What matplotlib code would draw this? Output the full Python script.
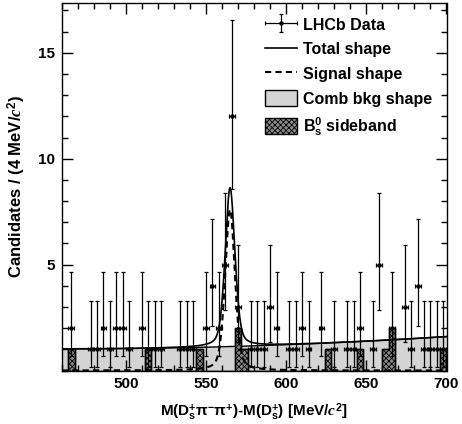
import numpy as np
import matplotlib
matplotlib.use("Agg")
import matplotlib.pyplot as plt
from matplotlib.lines import Line2D
from matplotlib.patches import Patch
from matplotlib.legend_handler import HandlerErrorbar
from matplotlib.container import ErrorbarContainer

# ---------------- data ----------------
bin_low = 460.0
bin_width = 4.0
counts = [0, 2, 0, 0, 1, 1, 2, 1, 2, 2,
          1, 0, 2, 1, 1, 1, 0, 0, 1, 1,
          1, 0, 2, 4, 2, 5, 12, 3, 0, 1,
          1, 1, 3, 2, 0, 1, 1, 2, 1, 0,
          2, 0, 1, 0, 1, 1, 2, 0, 1, 5,
          0, 2, 0, 3, 1, 4, 1, 1, 1, 1]
sideband = [0, 1, 0, 0, 0, 0, 0, 0, 0, 0,
            0, 0, 0, 1, 0, 0, 0, 0, 0, 0,
            0, 1, 0, 0, 0, 0, 0, 2, 1, 0,
            0, 0, 0, 0, 0, 0, 0, 0, 0, 0,
            0, 1, 0, 0, 0, 0, 1, 0, 0, 0,
            1, 2, 0, 0, 0, 0, 0, 0, 0, 1]
# Poisson (Garwood 68%) error sizes by count
poisson_lo = {1: 0.827, 2: 1.292, 3: 1.633, 4: 1.914, 5: 2.160, 12: 3.43}
poisson_hi = {1: 2.300, 2: 2.638, 3: 2.918, 4: 3.163, 5: 3.382, 12: 4.57}

# fit-model parameters
sig_mean = 565.0
sig_sigma = 3.1
sig_gamma = 3.4
sig_frac_lorentz = 0.38
sig_amp_total = 7.5
sig_amp_dashed = 7.6
bkg_level = 1.02
bkg_rise = 0.58

x_ticks = [500, 550, 600, 650, 700]
y_ticks = [5, 10, 15]

# ---------------- style ----------------
plt.rcParams['font.family'] = ['Liberation Sans', 'DejaVu Sans']
plt.rcParams['font.weight'] = 'bold'
plt.rcParams['mathtext.fontset'] = 'custom'
plt.rcParams['mathtext.rm'] = 'Liberation Sans:bold'
plt.rcParams['mathtext.bf'] = 'Liberation Sans:bold'
plt.rcParams['mathtext.it'] = 'Liberation Serif:italic'
plt.rcParams['hatch.linewidth'] = 0.6

fs = 11
SB_FACE = '#8a8a8a'
SB_HATCH = 'xxxxxx'

fig = plt.figure(figsize=(4.62, 4.24), dpi=100)
ax = fig.add_axes([61.7 / 462, 1 - 370.5 / 424, (446.5 - 61.7) / 462, (370.5 - 3) / 424])

nb = len(counts)
edges = bin_low + bin_width * np.arange(nb + 1)
centers = edges[:-1] + bin_width / 2

m = np.linspace(edges[0], edges[-1], 1500)
bkg = bkg_level + bkg_rise * ((m - edges[0]) / (edges[-1] - edges[0])) ** 2
shape = ((1 - sig_frac_lorentz) * np.exp(-0.5 * ((m - sig_mean) / sig_sigma) ** 2)
         + sig_frac_lorentz / (1 + ((m - sig_mean) / sig_gamma) ** 2))
total = bkg + sig_amp_total * shape
signal = sig_amp_dashed * shape

# comb bkg
ax.fill_between(m, 0, bkg, facecolor='#d4d4d4', edgecolor='none', zorder=1)
ax.plot(m, bkg, color='black', lw=1.0, zorder=1.5)

# sideband histogram
ax.stairs(sideband, edges, fill=True, facecolor=SB_FACE, edgecolor='black',
          hatch=SB_HATCH, lw=1.0, zorder=2)
ax.stairs(sideband, edges, fill=False, edgecolor='black', lw=1.0, zorder=2.1)

# curves
ax.plot(m, total, color='black', lw=1.2, zorder=3)
ax.plot(m, signal, color='black', lw=1.5, ls=(0, (3, 2)), zorder=3)

# data
cnt = np.array(counts)
sel = cnt > 0
xc = centers[sel]
yc = cnt[sel]
ylo = np.array([poisson_lo[c] for c in yc])
yhi = np.array([poisson_hi[c] for c in yc])
eb = ax.errorbar(xc, yc, xerr=bin_width / 2 * 0.9, yerr=[ylo, yhi], fmt='o', color='black',
                 ms=2.2, lw=0.9, capsize=1.6, capthick=0.9, zorder=4)

ax.set_xlim(edges[0], edges[-1])
ax.set_ylim(0, 17.35)

ax.set_xticks(x_ticks)
ax.set_xticks(np.arange(460, 701, 10), minor=True)
ax.set_yticks(y_ticks)
ax.set_yticks(np.arange(0, 18, 1), minor=True)
ax.tick_params(which='both', direction='in', top=True, right=True, width=1.0,
               labelsize=fs)
ax.tick_params(which='major', length=8, pad=5)
ax.tick_params(which='minor', length=4)
for lab in ax.get_xticklabels() + ax.get_yticklabels():
    lab.set_fontweight('bold')
for s in ax.spines.values():
    s.set_linewidth(1.0)

ax.set_xlabel(r'M(D$_{\mathrm{s}}^{+}$π$^{-}$π$^{+}$)-M(D$_{\mathrm{s}}^{+}$) [MeV/$c^{2}$]',
              fontsize=fs, fontweight='bold')
ax.set_ylabel(r'Candidates / (4 MeV/$c^{2}$)', fontsize=12, fontweight='bold')
ax.xaxis.set_label_coords(0.5, -0.085)
ax.yaxis.set_label_coords(-0.087, 0.5)

# legend handle for data: marker with full-width horizontal bar and vertical bar
leg_pt, = ax.plot([], [], 'o', color='black', ms=2.6)
leg_data = ErrorbarContainer((leg_pt, None, []), has_xerr=True, has_yerr=True, label='LHCb Data')

handles = [
    eb,
    Line2D([], [], color='black', lw=1.2),
    Line2D([], [], color='black', lw=1.5, ls=(0, (3, 2))),
    Patch(facecolor='#d4d4d4', edgecolor='black', lw=1.0),
    Patch(facecolor=SB_FACE, edgecolor='black', hatch=SB_HATCH, lw=1.0),
]
labels = ['LHCb Data', 'Total shape', 'Signal shape', 'Comb bkg shape',
          r'B$_{\mathrm{s}}^{0}$ sideband']
leg = ax.legend(handles, labels, loc='upper left',
                bbox_to_anchor=(265 / 462, 1 - 16.5 / 424), bbox_transform=fig.transFigure,
                frameon=False, borderpad=0, borderaxespad=0,
                handlelength=2.0, handleheight=1.15, handletextpad=0.4,
                labelspacing=0.52, prop={'weight': 'bold', 'size': 11.5},
                handler_map={type(eb): HandlerErrorbar(xerr_size=1.0, yerr_size=0.55)})

fig.savefig('out.png', dpi=100)
